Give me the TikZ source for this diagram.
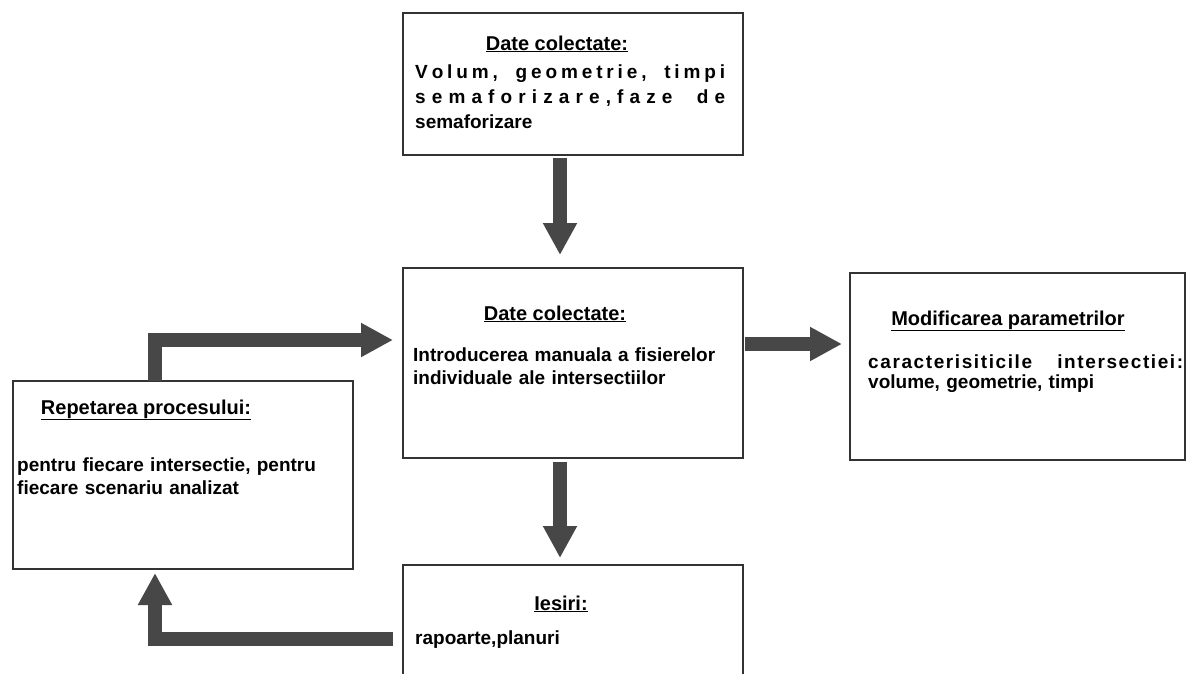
\documentclass[tikz,border=0pt]{standalone}
\usepackage{fontspec}
\setmainfont{Liberation Sans}
\usetikzlibrary{positioning, arrows.meta}

% letters of a word spread apart, for the justified lines
\let\lspend\relax
\def\lsploop#1{\ifx\lspend#1\else#1\hskip0pt plus1fil\relax\expandafter\lsploop\fi}
\newcommand\lsp[1]{\lsploop#1\lspend\unskip}
\newcommand\jline[2]{\makebox[#1][s]{#2}}

\begin{document}
\begin{tikzpicture}[x=1pt, y=-1pt,
  box/.style={draw=black!80, line width=1.3pt, inner sep=0pt, outer sep=0pt},
  boxtitle/.style={anchor=base, inner sep=0pt, font=\fontsize{20}{24}\selectfont\bfseries},
  boxtext/.style={anchor=base west, inner sep=0pt, align=left, font=\fontsize{19}{23}\selectfont\bfseries},
  flowarrow/.style={draw=black!72, line width=14pt, -{Triangle[length=32pt,width=32pt]}}]

\useasboundingbox (0,0) rectangle (1187,673);
\fill[white] (0,0) rectangle (1187,673);
\clip (0,0) rectangle (1187,673);

% boxes
\node[box, minimum width=340pt, minimum height=142pt] (collect) at (573,84) {};
\node[box, minimum width=340pt, minimum height=190pt] (entry) at (573,363) {};
\node[box, minimum width=335pt, minimum height=187pt] (modify) at (1017.5,366.5) {};
\node[box, minimum width=340pt, minimum height=188pt] (repeatbox) at (183,475) {};
\node[box, minimum width=340pt, minimum height=135pt] (results) at (573,632.5) {};

% texts
\node[boxtitle] (collecttitle) at (557,50) {\underline{Date colectate:}};
\node[boxtext, text width=310pt, font=\fontsize{19}{25}\selectfont\bfseries] (collecttext) at (415,78)
  {\jline{310pt}{\lsp{Volum,}\hskip6pt plus3fil\relax\lsp{geometrie,}\hskip6pt plus3fil\relax\lsp{timpi}}\\
   \jline{310pt}{\lsp{semaforizare,faze}\hskip6pt plus3fil\relax\lsp{de}}\\
   semaforizare};

\node[boxtitle] (entrytitle) at (555,320) {\underline{Date colectate:}};
\node[boxtext, text width=320pt] (entrytext) at (413,361)
  {\jline{320pt}{Introducerea manuala a fisierelor}\\
   individuale ale intersectiilor};

\node[boxtitle] (modifytitle) at (1008,325) {\underline{Modificarea parametrilor}};
\node[boxtext, text width=315pt, font=\fontsize{19}{20}\selectfont\bfseries] (modifytext) at (868,368)
  {\jline{315pt}{\lsp{caracterisiticile}\hskip6pt plus12fil\relax\lsp{intersectiei:}}\\
   volume, geometrie, timpi};

\node[boxtitle] (repeattitle) at (146,414) {\underline{Repetarea procesului:}};
\node[boxtext, text width=318pt] (repeattext) at (17,471)
  {\jline{318pt}{pentru fiecare intersectie, pentru}\\
   fiecare scenariu analizat};

\node[boxtitle] (resultstitle) at (561,610) {\underline{Iesiri:}};
\node[boxtext, text width=320pt] (resultstext) at (415,644) {rapoarte,planuri};

% arrows
\coordinate (colx) at (560,0);
\coordinate (rowy) at (0,344);
\coordinate (loopx) at (155,0);
\coordinate (looprow) at (0,340);
\coordinate (outrow) at (0,639);

\draw[flowarrow, shorten <=3pt, shorten >=13pt] (collect.south -| colx) -- (entry.north -| colx);
\draw[flowarrow, shorten <=2pt, shorten >=8pt] (entry.east |- rowy) -- (modify.west |- rowy);
\draw[flowarrow, shorten <=4pt, shorten >=7pt] (entry.south -| colx) -- (results.north -| colx);
\draw[flowarrow, shorten >=10pt] (repeatbox.north -| loopx) |- (entry.west |- looprow);
\draw[flowarrow, shorten <=10pt, shorten >=4pt] (results.west |- outrow) -| (repeatbox.south -| loopx);

\end{tikzpicture}
\end{document}
